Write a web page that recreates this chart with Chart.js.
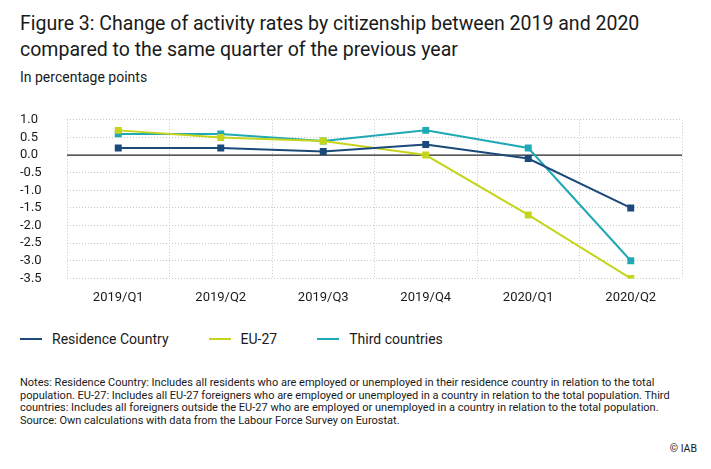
<!DOCTYPE html>
<html><head><meta charset="utf-8">
<script src="https://cdn.jsdelivr.net/npm/chart.js@4"></script>
<style>
body{margin:0;width:711px;height:469px;background:#fff;font-family:Roboto,"Open Sans",sans-serif;color:#1a1a1a;position:relative;overflow:hidden}
#t{position:absolute;left:20px;top:11px;font-size:19.5px;line-height:26px}
#s{position:absolute;left:20px;top:69px;font-size:14px}
#c{position:absolute;left:20px;top:106px;width:668px;height:212px}
#lg{position:absolute;left:20px;top:331px;font-size:14px;display:flex}
#lg span{display:flex;align-items:center;margin-right:40px}
#lg i{display:inline-block;width:22px;height:2px;margin-right:10px}
#n{position:absolute;left:20px;top:377px;font-size:11px;line-height:12.6px;width:680px}
#iab{position:absolute;right:14px;top:442px;font-size:10.5px}
</style></head><body>
<div id="t">Figure 3: Change of activity rates by citizenship between 2019 and 2020<br>compared to the same quarter of the previous year</div>
<div id="s">In percentage points</div>
<div id="c"><canvas id="cv"></canvas></div>
<div id="lg"></div>
<div id="n">Notes: Residence Country: Includes all residents who are employed or unemployed in their residence country in relation to the total population. EU-27: Includes all EU-27 foreigners who are employed or unemployed in a country in relation to the total population. Third countries: Includes all foreigners outside the EU-27 who are employed or unemployed in a country in relation to the total population.<br>Source: Own calculations with data from the Labour Force Survey on Eurostat.</div>
<div id="iab">© IAB</div>
<script>
const categories=["2019/Q1","2019/Q2","2019/Q3","2019/Q4","2020/Q1","2020/Q2"];
const residence=[0.2,0.2,0.1,0.3,-0.1,-1.5];
const eu27=[0.7,0.5,0.4,0.0,-1.7,-3.5];
const third=[0.6,0.6,0.4,0.7,0.2,-3.0];
const names=["Residence Country","EU-27","Third countries"];
const colors=["#1b4a7a","#c5d51c","#1fa9b5"];
const series=[residence,eu27,third];
const ds=series.map((d,i)=>({label:names[i],data:d,borderColor:colors[i],backgroundColor:colors[i],borderWidth:2,pointStyle:'rect',pointRadius:3.5,tension:0}));
document.getElementById('lg').innerHTML=names.map((n,i)=>`<span><i style="background:${colors[i]}"></i>${n}</span>`).join('');
new Chart(document.getElementById('cv'),{type:'line',data:{labels:categories,datasets:ds},
options:{responsive:true,maintainAspectRatio:false,animation:false,layout:{padding:{top:8,right:2}},
plugins:{legend:{display:false},tooltip:{enabled:false}},
scales:{x:{offset:true,grid:{offset:true,color:'#c8c8c8',drawTicks:false},border:{display:false,dash:[1,2]},ticks:{padding:12,color:'#1a1a1a',font:{family:'Roboto',size:13}}},
y:{min:-3.5,max:1.0,afterFit:s=>{s.width=47;},ticks:{stepSize:0.5,autoSkip:false,crossAlign:'far',color:'#1a1a1a',font:{family:'Roboto',size:13},callback:v=>v.toFixed(1),padding:6},
grid:{color:c=>c.tick.value===0?'rgba(0,0,0,0)':'#c8c8c8',drawTicks:false},border:{display:false,dash:[1,2]}}}},
plugins:[{id:'zero',beforeDatasetsDraw(ch){const y=ch.scales.y.getPixelForValue(0),a=ch.chartArea,c=ch.ctx;c.save();c.strokeStyle='#222';c.lineWidth=1.2;c.beginPath();c.moveTo(a.left,y);c.lineTo(a.right,y);c.stroke();c.restore();}}]
});
</script></body></html>
